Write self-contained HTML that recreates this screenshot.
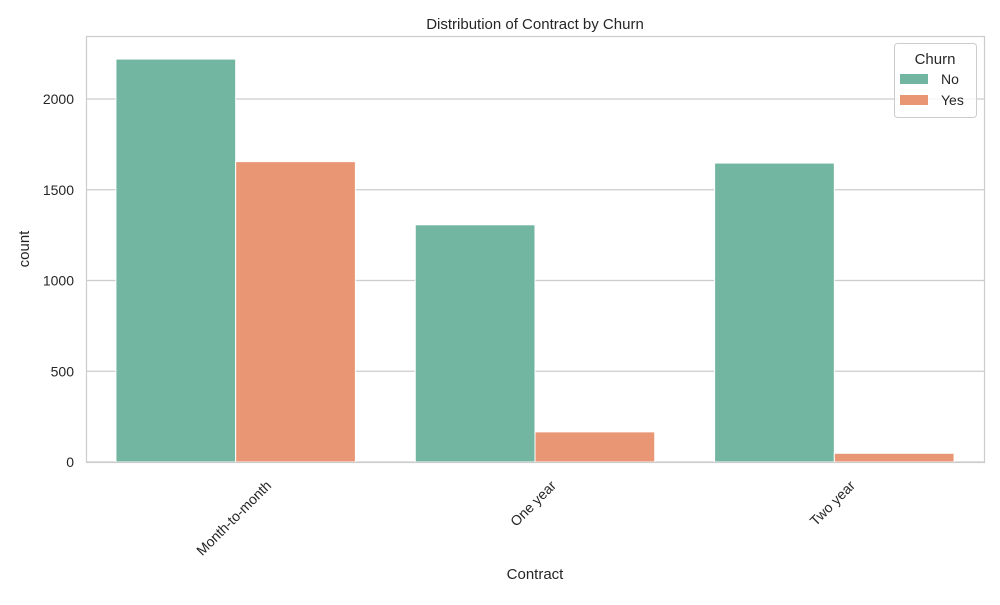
<!DOCTYPE html>
<html><head><meta charset="utf-8"><style>
body{margin:0;background:#fff;font-family:"Liberation Sans",sans-serif;}
svg text{font-family:"Liberation Sans",sans-serif;fill:#262626;}
</style></head><body>
<svg id="chart" width="1000" height="600">
<rect x="0" y="0" width="1000" height="600" fill="#fff"/>
<g id="grid"></g>
<g id="bars"></g>
<rect x="86.5" y="36.5" width="898" height="426" fill="none" stroke="#cccccc" stroke-width="1.2"/>
<g id="xt"></g><g id="yt"></g>
<text x="535" y="29" text-anchor="middle" font-size="15">Distribution of Contract by Churn</text>
<text x="535" y="579" text-anchor="middle" font-size="15">Contract</text>
<text x="0" y="0" transform="translate(29,249) rotate(-90)" text-anchor="middle" font-size="15">count</text>
<g>
<rect x="894.5" y="43.5" width="82" height="74" rx="3" fill="#fff" fill-opacity="0.8" stroke="#cccccc"/>
<text x="935" y="64" text-anchor="middle" font-size="15">Churn</text>
<g><rect x="900" y="74" width="28" height="10" fill="#72b6a1"/><text x="941" y="84" font-size="14">No</text></g>
<g><rect x="900" y="95" width="28" height="10" fill="#e99675"/><text x="941" y="105" font-size="14">Yes</text></g>
</g>
</svg>
<script>
const categories=["Month-to-month","One year","Two year"];
const noValues=[2220,1307,1647];
const yesValues=[1655,166,48];
const yTicks=[0,500,1000,1500,2000];
const NS="http://www.w3.org/2000/svg";
const L=86,R=984,T=36,B=462;
const band=(R-L)/categories.length;
const y=v=>B-v*0.1815;
const x=i=>L+band*(i+0.5);
function mk(t,a,p){const e=document.createElementNS(NS,t);for(const k in a)e.setAttribute(k,a[k]);p.appendChild(e);return e;}
const grid=document.getElementById('grid'),yt=document.getElementById('yt'),xt=document.getElementById('xt'),bars=document.getElementById('bars');
yTicks.forEach(v=>{
 const l=mk('line',{x1:L,x2:R,y1:y(v),y2:y(v),stroke:'#cccccc','stroke-width':1.2},grid);
 
 
 const t=mk('text',{x:L-12,y:y(v)+5,'text-anchor':'end','font-size':14},yt);t.textContent=v;
 
 
});
const bw=band*0.8/2;
categories.forEach((c,i)=>{
 const cx=x(i);
 const b1=mk('rect',{x:cx-bw,y:y(noValues[i]),width:bw,height:B-y(noValues[i]),fill:'#72b6a1',stroke:'#fff','stroke-width':1},bars);
 
 
 const b2=mk('rect',{x:cx,y:y(yesValues[i]),width:bw,height:B-y(yesValues[i]),fill:'#e99675',stroke:'#fff','stroke-width':1},bars);
 
 
 const t=mk('text',{'text-anchor':'middle','font-size':14,'dominant-baseline':'central'},xt);t.textContent=c;
 
 
 const w=t.getComputedTextLength();
 const half=(w+14)*0.7071/2;
 t.setAttribute('transform',`translate(${cx-2},${B+16+half}) rotate(-45)`);
});
</script>
</body></html>
